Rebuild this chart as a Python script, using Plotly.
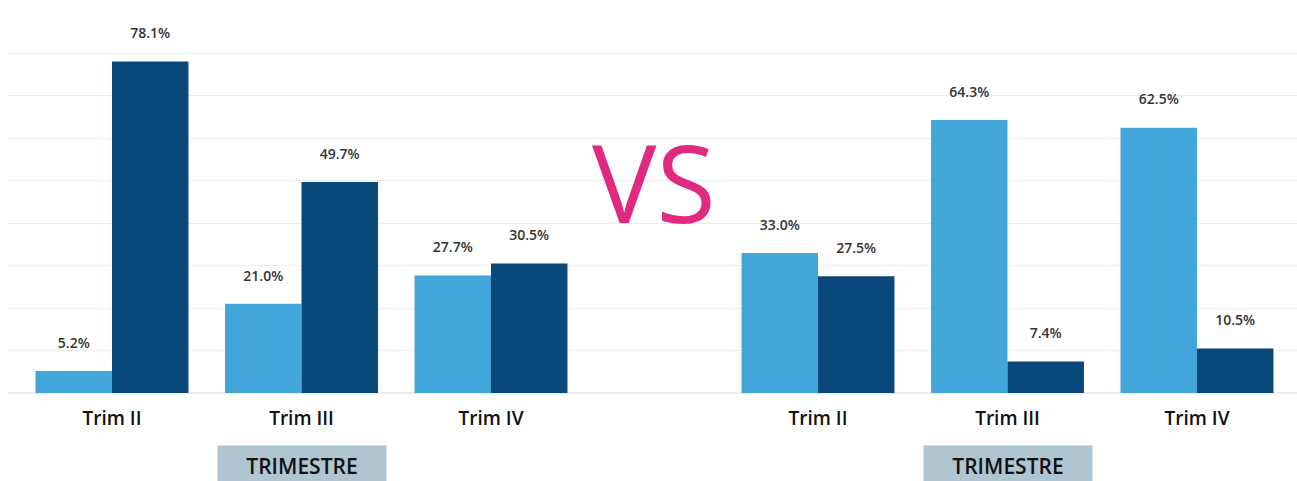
import plotly.graph_objects as go

# ---------------- data ----------------
categories = ["Trim II", "Trim III", "Trim IV"]
left_light = [5.2, 21.0, 27.7]
left_dark = [78.1, 49.7, 30.5]
right_light = [33.0, 64.3, 62.5]
right_dark = [27.5, 7.4, 10.5]
group_title = "TRIMESTRE"
vs_text = "VS"

# ---------------- style ----------------
LIGHT = "#42A6DB"
DARK = "#0A477B"
PINK = "#E0297F"
FONT = "Open Sans"
W, H = 1297, 481

fig = go.Figure()

# background grid subplot (spans full width)
fig.add_trace(go.Scatter(x=[0, 1], y=[0, 0], mode="none", hoverinfo="skip",
                         showlegend=False, xaxis="x", yaxis="y"))


def add_panel(fig, light, dark, xa, ya):
    for vals, color, grp in ((light, LIGHT, "a"), (dark, DARK, "b")):
        fig.add_trace(go.Bar(x=categories, y=vals, marker=dict(color=color, line=dict(width=0)),
                             offsetgroup=grp, xaxis=xa, yaxis=ya, showlegend=False))
        fig.add_trace(go.Scatter(x=categories, y=vals, mode="text+markers",
                                 marker=dict(size=30, opacity=0),
                                 text=[f"{v:.1f}%" for v in vals], textposition="top center",
                                 textfont=dict(family=FONT, size=14, color="#333333", weight=600),
                                 offsetgroup=grp, xaxis=xa, yaxis=ya, showlegend=False,
                                 cliponaxis=False, hoverinfo="skip"))


add_panel(fig, left_light, left_dark, "x2", "y2")
add_panel(fig, right_light, right_dark, "x3", "y3")

yrange = [0, 90]
tickfont = dict(family=FONT, size=19, color="#111111", weight=600)

fig.update_layout(
    width=W, height=H,
    margin=dict(l=0, r=0, t=11, b=88, pad=0, autoexpand=False),
    paper_bgcolor="white", plot_bgcolor="rgba(0,0,0,0)",
    barmode="group", bargap=0.193, bargroupgap=0,
    scattermode="group", scattergap=0.193,
    showlegend=False,
    xaxis=dict(domain=[8 / W, 1], range=[0, 1], visible=False, fixedrange=True, automargin=False),
    yaxis=dict(range=yrange, dtick=10, showgrid=True, gridcolor="#EDEDED", gridwidth=1,
               zeroline=True, zerolinecolor="#EBEBEB", showticklabels=False, fixedrange=True,
               automargin=False),
    xaxis2=dict(domain=[17.25 / W, 585.75 / W], anchor="y2", type="category",
                showgrid=False, showline=False, zeroline=False, automargin=False,
                ticks="", ticklabelstandoff=12, tickfont=tickfont),
    yaxis2=dict(range=yrange, anchor="x2", visible=False, showgrid=False, automargin=False),
    xaxis3=dict(domain=[723.25 / W, 1291.75 / W], anchor="y3", type="category",
                showgrid=False, showline=False, zeroline=False, automargin=False,
                ticks="", ticklabelstandoff=12, tickfont=tickfont),
    yaxis3=dict(range=yrange, anchor="x3", visible=False, showgrid=False, automargin=False),
)

# TRIMESTRE boxes under the middle category of each panel
for xr in ("x2", "x3"):
    fig.add_annotation(x=categories[1], xref=xr, y=-0.191, yref="paper",
                       text=group_title, showarrow=False, bgcolor="#AFC5D2",
                       width=166, height=38, xanchor="center", yanchor="middle",
                       font=dict(family=FONT, size=21, color="#111111", weight=600))

# VS
fig.add_annotation(x=654 / W, xref="paper", y=(393 - 182) / 382, yref="paper",
                   text=vs_text, showarrow=False, xanchor="center", yanchor="middle",
                   font=dict(family=FONT, size=108, color=PINK, weight=400))

fig.write_html("out.html",
               config={"displayModeBar": False},
               post_script="document.body.style.margin='0px';document.body.style.overflow='hidden';")
